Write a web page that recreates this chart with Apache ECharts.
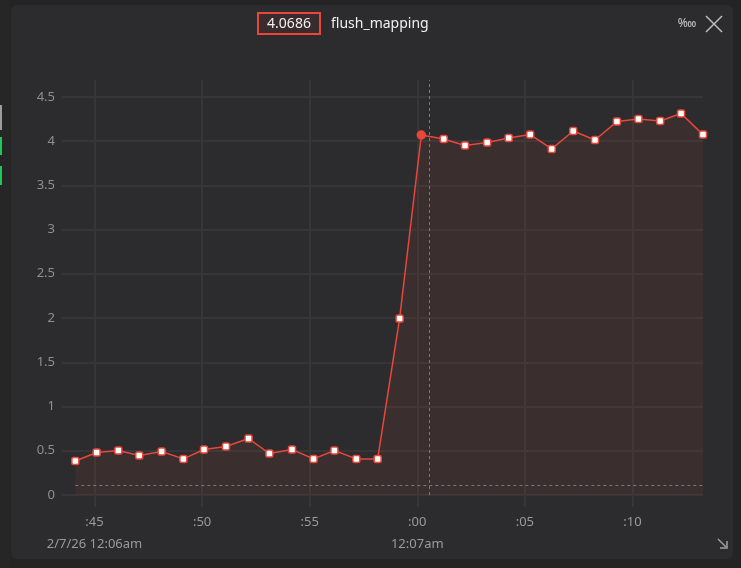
<!DOCTYPE html>
<html>
<head>
<meta charset="utf-8">
<script src="https://cdn.jsdelivr.net/npm/echarts@6/dist/echarts.min.js"></script>
<style>
html, body { margin: 0; padding: 0; background: #242424; }
.side { position: absolute; left: 0; top: 0; width: 10px; height: 568px; background: #262626; }
.mark { position: absolute; left: 0; width: 2px; }
.panel { position: absolute; left: 11px; top: 5px; width: 722px; height: 554px; background: #2c2c2e; border-radius: 6px; }
#chart { position: absolute; left: 0; top: 0; width: 741px; height: 568px; }
</style>
</head>
<body>
<div class="side"></div>
<div class="mark" style="top:105px;height:25px;background:#9c9c9c"></div>
<div class="mark" style="top:137px;height:18px;background:#1ec95a"></div>
<div class="mark" style="top:166px;height:19px;background:#1ec95a"></div>
<div class="panel"></div>
<div id="chart"></div>
<script>
// seconds after 12:06:00
var times = [44.11, 45.10, 46.11, 47.08, 48.12, 49.13, 50.09, 51.11, 52.16, 53.13,
    54.18, 55.18, 56.15, 57.17, 58.16, 59.18, 60.19, 61.23, 62.22, 63.25,
    64.25, 65.25, 66.25, 67.25, 68.26, 69.28, 70.28, 71.29, 72.26, 73.28];
var values = [0.385, 0.480, 0.503, 0.446, 0.492, 0.408, 0.514, 0.548, 0.638, 0.469,
    0.514, 0.408, 0.503, 0.408, 0.408, 1.994, 4.0686, 4.024, 3.949, 3.983,
    4.035, 4.073, 3.911, 4.114, 4.012, 4.220, 4.250, 4.227, 4.311, 4.073];
var tickSeconds = [45, 50, 55, 60, 65, 70];
var tickLabels = {45: ':45\n2/7/26 12:06am', 50: ':50', 55: ':55', 60: ':00\n12:07am', 65: ':05', 70: ':10'};
var hoverIndex = 16;
var crossX = 60.58;
var crossY = 0.114;
var seriesName = 'flush_mapping';

var myChart = echarts.init(document.getElementById('chart'));
var font = 'Noto Sans';
var red = '#e8473a';
var gridColor = '#363638';

var seriesData = [];
for (var i = 0; i < times.length; i++) {
    if (i === hoverIndex) {
        seriesData.push({
            value: [times[i], values[i]],
            symbol: 'circle',
            symbolSize: 8,
            itemStyle: { color: red, borderColor: red }
        });
    } else {
        seriesData.push([times[i], values[i]]);
    }
}

var option = {
    backgroundColor: 'transparent',
    animation: false,
    grid: { left: 62, right: 38, top: 80, bottom: 73 },
    xAxis: {
        type: 'value',
        min: 43.49,
        max: times[times.length - 1],
        axisLine: { show: false },
        axisTick: {
            show: true,
            length: 12,
            customValues: tickSeconds,
            lineStyle: { color: gridColor, width: 2 }
        },
        axisLabel: {
            customValues: tickSeconds,
            color: '#9a9a9a',
            fontFamily: font,
            fontSize: 13,
            lineHeight: 22,
            margin: 16,
            formatter: function (v) { return tickLabels[v] || ''; }
        },
        splitLine: { show: true, lineStyle: { color: gridColor, width: 2 } }
    },
    yAxis: {
        type: 'value',
        min: 0,
        max: 4.69,
        interval: 0.5,
        axisLine: { show: false },
        axisTick: { show: false },
        axisLabel: {
            color: '#8f8f8f',
            fontFamily: font,
            fontSize: 13,
            margin: 7,
            showMaxLabel: false
        },
        splitLine: { show: true, showMaxLine: false, lineStyle: { color: gridColor, width: 2 } }
    },
    series: [{
        name: seriesName,
        type: 'line',
        data: seriesData,
        symbol: 'roundRect',
        symbolSize: 7,
        showAllSymbol: true,
        lineStyle: { color: red, width: 1.5 },
        itemStyle: { color: '#ffffff', borderColor: red, borderWidth: 1.5 },
        areaStyle: { color: 'rgba(231,76,60,0.11)' },
        markLine: {
            silent: true,
            symbol: 'none',
            label: { show: false },
            lineStyle: { color: '#6f7c88', type: [3, 3], width: 1 },
            data: [
                { xAxis: crossX },
                [{ coord: [times[0], crossY] }, { coord: [times[times.length - 1], crossY] }]
            ]
        }
    }],
    graphic: [
        {
            type: 'rect',
            shape: { x: 258, y: 13, width: 62, height: 21 },
            style: { fill: '#3a2b2c', stroke: red, lineWidth: 2 }
        },
        {
            type: 'text',
            x: 289, y: 24,
            style: {
                text: String(values[hoverIndex]),
                fill: '#f0f0f0', font: '14px "Noto Sans"',
                align: 'center', verticalAlign: 'middle'
            }
        },
        {
            type: 'text',
            x: 331, y: 24,
            style: {
                text: seriesName,
                fill: '#f0f0f0', font: '14px "Noto Sans"',
                align: 'left', verticalAlign: 'middle'
            }
        },
        {
            type: 'text',
            x: 687, y: 24,
            style: {
                text: '‱', fill: '#c8c8c8', font: '12px "Noto Sans"',
                align: 'center', verticalAlign: 'middle'
            }
        },
        {
            type: 'polyline',
            shape: { points: [[706, 16], [722, 32]] },
            style: { stroke: '#c0c0c0', lineWidth: 1.5 }
        },
        {
            type: 'polyline',
            shape: { points: [[722, 16], [706, 32]] },
            style: { stroke: '#c0c0c0', lineWidth: 1.5 }
        },
        {
            type: 'polyline',
            shape: { points: [[718, 539], [726, 547]] },
            style: { stroke: '#a0a0a0', lineWidth: 1.5 }
        },
        {
            type: 'polyline',
            shape: { points: [[727, 541], [727, 548], [720, 548]] },
            style: { stroke: '#a0a0a0', lineWidth: 1.5 }
        }
    ]
};

myChart.setOption(option);
</script>
</body>
</html>
